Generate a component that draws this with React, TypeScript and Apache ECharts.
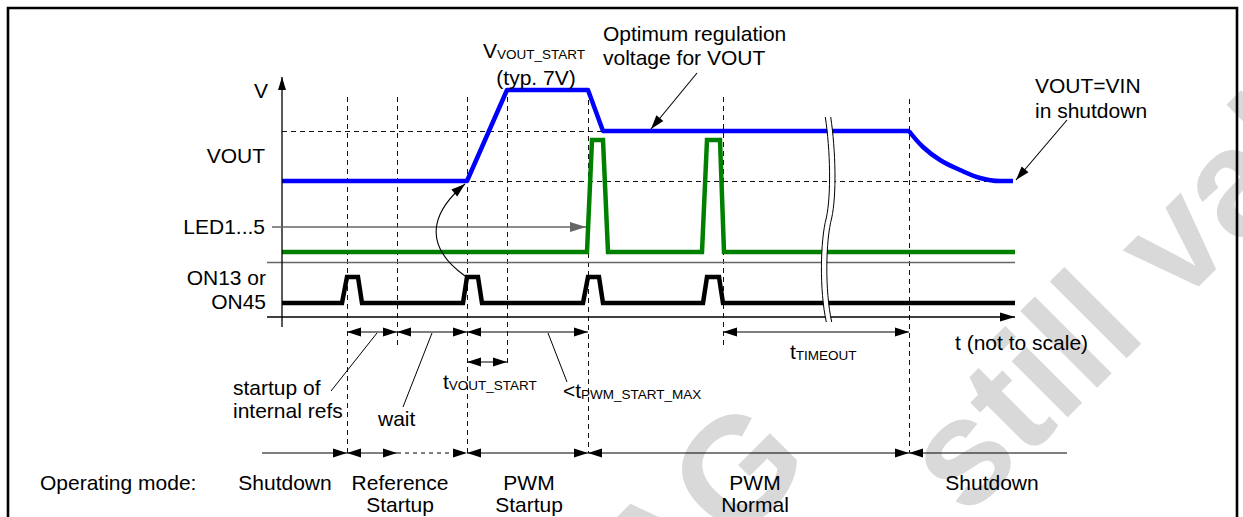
import React, { useEffect, useRef } from "react";
import * as echarts from "echarts";

// ---------------- data (diagram units: x = time position, y = level; y grows downwards) ----------------
const X_EXTENT = [0, 1243];
const Y_EXTENT = [0, 517];

const VOUT_TRACE = [[282, 181], [467, 181], [507, 90], [588, 90], [603, 131], [909, 131]];
const VOUT_DECAY = [[909, 131], [923, 147], [940, 160], [960, 170], [980, 178], [1000, 181], [1013, 181]];
const LED_TRACE = [[282, 252], [587, 252], [592, 140], [603, 140], [608, 252], [702, 252], [707, 140], [720, 140], [724, 252], [1015, 252]];
const ON_TRACE = [[282, 303], [342, 303], [347, 277], [358, 277], [362, 303], [463, 303], [467, 277], [478, 277], [482, 303], [583, 303], [588, 277], [599, 277], [603, 303], [703, 303], [707, 277], [719, 277], [723, 303], [1015, 303]];

// vertical guides: x, top, bottom ; horizontal guides: y, start, end
const V_GUIDES = [[347, 97, 453], [397, 97, 347], [467, 97, 453], [507, 97, 365], [588, 100, 453], [723, 97, 347], [909, 99, 453]];
const H_GUIDES = [[131, 282, 909], [181, 282, 1013]];

const AXES = [[282, 327, 282, 77], [267, 317, 1015, 317]];
const LED_MARKER = [272, 227, 586, 227];
const LED_BASELINE = [267, 262, 1015, 262];
const INTERVALS = [[347, 397, 332], [397, 467, 332], [467, 588, 332], [723, 909, 332], [467, 507, 362]];
const MODE_ROW_Y = 453;
const MODE_SEGMENTS = [[262, 347], [347, 397], [397, 467], [467, 588], [588, 909], [909, 1067]];
const MODE_HEADS = ["end", "both", "end", "both", "both", "start"];
const MODE_DASHED = [false, false, true, false, false, false];
const LEADERS = [[377, 333, 331, 391], [432, 333, 403, 407], [548, 333, 567, 382]];
const POINTERS = [[697, 73, 651, 129], [1067, 120, 1016, 180]];
const CURVED_POINTER = [[465, 276], [415, 240], [440, 205], [465, 184]];
const BREAK_MARK = [[828, 117], [833, 150], [834, 195], [829, 218], [823, 240], [822, 290], [829, 322]];

const SIGNAL_NAMES = ["VOUT", "VOUT decay", "LED1...5", "ON13/ON45"];

const LABELS: [string, number, number, string][] = [
  ["V", 268, 90, "right"],
  ["VOUT", 265, 155, "right"],
  ["LED1...5", 265, 226, "right"],
  ["ON13 or", 266, 277, "right"],
  ["ON45", 266, 301, "right"],
  ["(typ. 7V)", 536, 77, "center"],
  ["Optimum regulation", 603, 33, "left"],
  ["voltage for VOUT", 603, 57, "left"],
  ["VOUT=VIN", 1035, 85, "left"],
  ["in shutdown", 1035, 110, "left"],
  ["startup of", 233, 387, "left"],
  ["internal refs", 233, 410, "left"],
  ["wait", 378, 418, "left"],
  ["t (not to scale)", 955, 342, "left"],
  ["Operating mode:", 40, 482, "left"],
  ["Shutdown", 285, 482, "center"],
  ["Reference", 400, 482, "center"],
  ["Startup", 400, 504, "center"],
  ["PWM", 529, 482, "center"],
  ["Startup", 529, 504, "center"],
  ["PWM", 755, 482, "center"],
  ["Normal", 755, 504, "center"],
  ["Shutdown", 992, 482, "center"],
];
// main text, subscript text, left x, baseline y
const SUB_LABELS: [string, string, number, number][] = [
  ["V", "VOUT_START", 483, 57],
  ["t", "VOUT_START", 443, 388],
  ["<t", "PWM_START_MAX", 563, 397],
  ["t", "TIMEOUT", 790, 358],
];

// watermark lines: text, baseline anchor x, y, alignment
const WATERMARK: [string, number, number, string][] = [
  ["AG", 815, 465, "right"],
  ["still valid", 966, 519, "left"],
];

// ---------------- styles ----------------
const FONT = '"Liberation Sans", Arial, Helvetica, sans-serif';
const FS = 21;
const SUB_FS = 13.5;
const BLACK = "#000";
const GREY = "#666";
const WM_SIZE = 150;
const WM_ANGLE = (45 * Math.PI) / 180;

function headPoly(tip: number[], from: number[], color: string, L = 13, hw = 4.5) {
  const dx = tip[0] - from[0];
  const dy = tip[1] - from[1];
  const len = Math.hypot(dx, dy) || 1;
  const ux = dx / len;
  const uy = dy / len;
  const bx = tip[0] - ux * L;
  const by = tip[1] - uy * L;
  return {
    type: "polygon",
    shape: { points: [[tip[0], tip[1]], [bx + uy * hw, by - ux * hw], [bx - uy * hw, by + ux * hw]] },
    style: { fill: color, stroke: "none" },
  };
}

function arrowEls(a: number[], b: number[], opts: any) {
  const { start = false, end = false, color = BLACK, width = 1.2, dash = null, L = 13, hw = 4.5 } = opts;
  const els: any[] = [];
  const style: any = { stroke: color, lineWidth: width, fill: "none" };
  if (dash) style.lineDash = dash;
  els.push({ type: "line", shape: { x1: a[0], y1: a[1], x2: b[0], y2: b[1] }, style });
  if (end) els.push(headPoly(b, a, color, L, hw));
  if (start) els.push(headPoly(a, b, color, L, hw));
  return els;
}

const crisp = (v: number) => Math.round(v) + 0.5;

function renderWatermark(_p: any, api: any) {
  const kids = WATERMARK.map(([text, x, y, align]) => {
    const p = api.coord([x, y]);
    return {
      type: "group",
      x: p[0],
      y: p[1],
      rotation: WM_ANGLE,
      children: [
        {
          type: "text",
          x: 0,
          y: -0.3465 * WM_SIZE,
          style: { text, font: `bold ${WM_SIZE}px ${FONT}`, fill: "#d9d9d9", align, verticalAlign: "middle" },
        },
      ],
    };
  });
  return { type: "group", children: kids };
}

function renderGuides(_p: any, api: any) {
  const kids: any[] = [];
  const dash = { stroke: "#111", lineWidth: 1, lineDash: [5, 4], fill: "none" };
  V_GUIDES.forEach(([x, y1, y2]) => {
    const a = api.coord([x, y1]);
    const b = api.coord([x, y2]);
    const cx = crisp(a[0]);
    kids.push({ type: "line", shape: { x1: cx, y1: a[1], x2: cx, y2: b[1] }, style: dash });
  });
  H_GUIDES.forEach(([y, x1, x2]) => {
    const a = api.coord([x1, y]);
    const b = api.coord([x2, y]);
    const cy = crisp(a[1]);
    kids.push({ type: "line", shape: { x1: a[0], y1: cy, x2: b[0], y2: cy }, style: dash });
  });
  {
    const a = api.coord([LED_BASELINE[0], LED_BASELINE[1]]);
    const b = api.coord([LED_BASELINE[2], LED_BASELINE[3]]);
    kids.push({ type: "line", shape: { x1: a[0], y1: crisp(a[1]), x2: b[0], y2: crisp(b[1]) }, style: { stroke: GREY, lineWidth: 1.5 } });
  }
  return { type: "group", children: kids };
}

function renderAnnotations(_p: any, api: any) {
  const P = (x: number, y: number) => api.coord([x, y]) as number[];
  const kids: any[] = [];

  AXES.forEach(([x1, y1, x2, y2], i) => {
    kids.push(...arrowEls(P(x1, y1), P(x2, y2), { end: true, width: 1.3, L: i === 0 ? 13 : 15, hw: i === 0 ? 4 : 4.5 }));
  });
  kids.push(...arrowEls(P(LED_MARKER[0], LED_MARKER[1]), P(LED_MARKER[2], LED_MARKER[3]), { end: true, color: GREY, width: 1.5, L: 16, hw: 5 }));
  INTERVALS.forEach(([x1, x2, y]) => {
    kids.push(...arrowEls(P(x1, y), P(x2, y), { start: true, end: true, width: 1.1, L: 14, hw: 4.5 }));
  });
  MODE_SEGMENTS.forEach(([x1, x2], i) => {
    const h = MODE_HEADS[i];
    kids.push(
      ...arrowEls(P(x1, MODE_ROW_Y), P(x2, MODE_ROW_Y), {
        start: h === "both" || h === "start",
        end: h === "both" || h === "end",
        dash: MODE_DASHED[i] ? [4, 4] : null,
        width: 1.1,
        L: 14,
        hw: 4.5,
      })
    );
  });
  LEADERS.forEach(([x1, y1, x2, y2]) => {
    const a = P(x1, y1);
    const b = P(x2, y2);
    kids.push({ type: "line", shape: { x1: a[0], y1: a[1], x2: b[0], y2: b[1] }, style: { stroke: BLACK, lineWidth: 1 } });
  });
  POINTERS.forEach(([x1, y1, x2, y2]) => {
    kids.push(...arrowEls(P(x1, y1), P(x2, y2), { end: true, width: 1.1, L: 14, hw: 4.5 }));
  });
  {
    const [s, c1, c2, e] = CURVED_POINTER.map(([x, y]) => P(x, y));
    kids.push({
      type: "bezierCurve",
      shape: { x1: s[0], y1: s[1], cpx1: c1[0], cpy1: c1[1], cpx2: c2[0], cpy2: c2[1], x2: e[0], y2: e[1] },
      style: { stroke: BLACK, lineWidth: 1.1, fill: "none" },
    });
    kids.push(headPoly(e, c2, BLACK, 14, 4.5));
  }
  {
    const pts = BREAK_MARK.map(([x, y]) => P(x, y));
    const curve = (dx: number, style: any) => [
      {
        type: "bezierCurve",
        shape: { x1: pts[0][0] + dx, y1: pts[0][1], cpx1: pts[1][0] + dx, cpy1: pts[1][1], cpx2: pts[2][0] + dx, cpy2: pts[2][1], x2: pts[3][0] + dx, y2: pts[3][1] },
        style,
      },
      {
        type: "bezierCurve",
        shape: { x1: pts[3][0] + dx, y1: pts[3][1], cpx1: pts[4][0] + dx, cpy1: pts[4][1], cpx2: pts[5][0] + dx, cpy2: pts[5][1], x2: pts[6][0] + dx, y2: pts[6][1] },
        style,
      },
    ];
    kids.push(...curve(0, { stroke: "#fff", lineWidth: 5, fill: "none" }));
    kids.push(...curve(-2.7, { stroke: BLACK, lineWidth: 1, fill: "none" }));
    kids.push(...curve(2.7, { stroke: BLACK, lineWidth: 1, fill: "none" }));
  }
  LABELS.forEach(([text, x, y, align]) => {
    const p = P(x, y);
    kids.push({
      type: "text",
      style: { text, x: p[0], y: p[1], fill: BLACK, font: `${FS}px ${FONT}`, align, verticalAlign: "middle" },
    });
  });
  SUB_LABELS.forEach(([main, sub, x, y]) => {
    const p = P(x, y);
    kids.push({
      type: "text",
      style: {
        text: `{m|${main}}{s|${sub}}`,
        x: p[0],
        y: p[1] + 4,
        align: "left",
        verticalAlign: "bottom",
        fill: BLACK,
        rich: {
          m: { fontSize: FS, fontFamily: FONT, fill: BLACK, verticalAlign: "bottom" },
          s: { fontSize: SUB_FS, fontFamily: FONT, fill: BLACK, verticalAlign: "bottom" },
        },
      },
    });
  });
  return { type: "group", children: kids };
}

function buildOption() {
  const sig = (name: string, data: number[][], color: string, width: number, smooth: boolean | number = false, join = "miter") => ({
    type: "line",
    name,
    data,
    smooth,
    symbol: "none",
    showSymbol: false,
    silent: true,
    z: 3,
    lineStyle: { color, width, join, cap: "butt" },
  });
  return {
    animation: false,
    backgroundColor: "#fff",
    grid: { left: 0, right: 0, top: 0, bottom: 0 },
    xAxis: { type: "value", min: X_EXTENT[0], max: X_EXTENT[1], show: false },
    yAxis: { type: "value", min: Y_EXTENT[0], max: Y_EXTENT[1], inverse: true, show: false },
    graphic: [
      {
        type: "rect",
        shape: { x: 8, y: 8, width: 1229, height: 540 },
        style: { fill: "none", stroke: BLACK, lineWidth: 2.6 },
        z: 100,
      },
    ],
    series: [
      { type: "custom", coordinateSystem: "cartesian2d", data: [[0, 0]], renderItem: renderWatermark, z: 0, silent: true, clip: false },
      { type: "custom", coordinateSystem: "cartesian2d", data: [[0, 0]], renderItem: renderGuides, z: 1, silent: true, clip: false },
      sig(SIGNAL_NAMES[0], VOUT_TRACE, "#0000ff", 4.5, false, "round"),
      sig(SIGNAL_NAMES[1], VOUT_DECAY, "#0000ff", 4.5, 0.4, "round"),
      sig(SIGNAL_NAMES[2], LED_TRACE, "#008000", 4.5),
      sig(SIGNAL_NAMES[3], ON_TRACE, "#000000", 4.5),
      { type: "custom", coordinateSystem: "cartesian2d", data: [[0, 0]], renderItem: renderAnnotations, z: 5, silent: true, clip: false },
    ],
  };
}

export default function App() {
  const ref = useRef<HTMLDivElement>(null);
  useEffect(() => {
    if (!ref.current) return;
    const chart = echarts.init(ref.current, null, { renderer: "svg" });
    chart.setOption(buildOption() as any);
    return () => chart.dispose();
  }, []);
  return (
    <div
      ref={ref}
      style={{ position: "fixed", left: 0, top: 0, width: 1243, height: 517, background: "#fff" }}
    />
  );
}
